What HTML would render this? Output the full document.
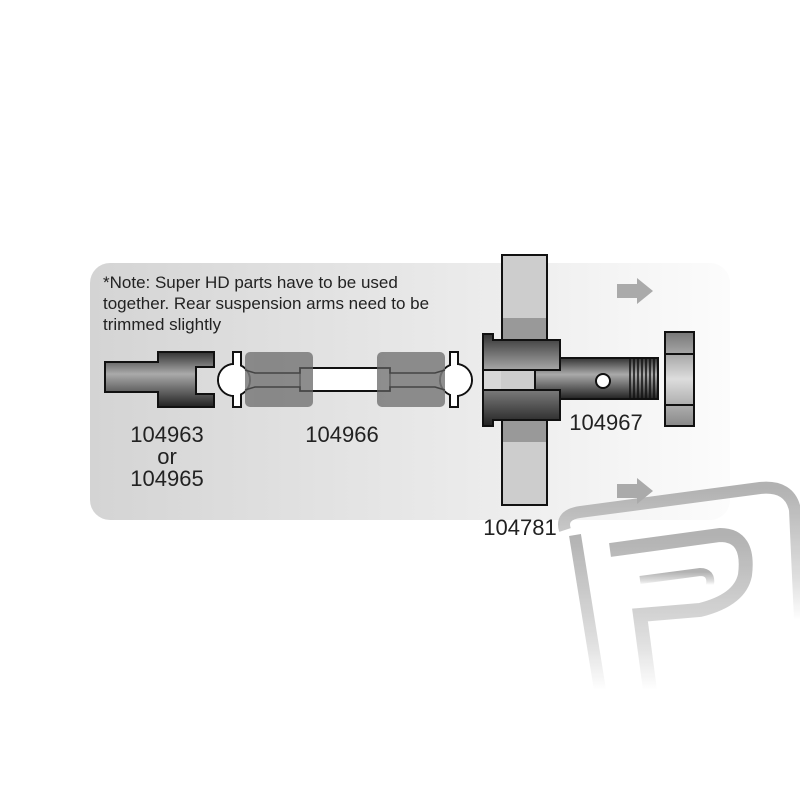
<!DOCTYPE html>
<html><head><meta charset="utf-8"><style>
html,body{margin:0;padding:0;background:#fff;}
svg{display:block;}
text{font-family:"Liberation Sans",sans-serif;fill:#222;}
</style></head><body>
<svg width="800" height="800" viewBox="0 0 800 800" xmlns="http://www.w3.org/2000/svg">
<defs>
<linearGradient id="panel" x1="0" y1="0" x2="1" y2="0">
<stop offset="0" stop-color="#d4d4d4"/><stop offset="0.6" stop-color="#ebebeb"/><stop offset="1" stop-color="#fcfcfc"/>
</linearGradient>
<linearGradient id="metal" x1="0" y1="0" x2="0" y2="1">
<stop offset="0" stop-color="#333"/><stop offset="0.4" stop-color="#aaa"/><stop offset="0.55" stop-color="#888"/><stop offset="1" stop-color="#222"/>
</linearGradient>
<linearGradient id="nut" x1="0" y1="0" x2="0" y2="1">
<stop offset="0" stop-color="#777"/><stop offset="0.5" stop-color="#ddd"/><stop offset="1" stop-color="#888"/>
</linearGradient>
<linearGradient id="wm" x1="0" y1="0" x2="0" y2="1">
<stop offset="0" stop-color="#aaa"/><stop offset="0.7" stop-color="#ddd"/><stop offset="1" stop-color="#fff"/>
</linearGradient>
</defs>
<rect x="90" y="263" width="640" height="257" rx="20" fill="url(#panel)"/>
<!-- watermark -->
<g fill="none" stroke="url(#wm)" opacity="0.9">
<path d="M565 530 Q560 515 580 512 L760 488 Q790 485 795 510 L800 620" stroke-width="12"/>
<path d="M575 535 L600 690" stroke-width="12"/>
<path d="M610 550 L720 535 Q750 535 745 575 Q740 600 700 610 L640 615 L650 690" stroke-width="14"/>
<path d="M640 580 L700 572 Q712 572 710 585" stroke-width="8"/>
</g>
<text x="103" y="288" font-size="17">*Note: Super HD parts have to be used</text>
<text x="103" y="309" font-size="17">together. Rear suspension arms need to be</text>
<text x="103" y="330" font-size="17">trimmed slightly</text>
<!-- 104963 -->
<path d="M105 362 H158 V352 H214 V367 H196 V394 H214 V407 H158 V392 H105 Z" fill="url(#metal)" stroke="#111" stroke-width="2"/>
<text x="167" y="442" font-size="22" text-anchor="middle">104963</text>
<text x="167" y="464" font-size="22" text-anchor="middle">or</text>
<text x="167" y="486" font-size="22" text-anchor="middle">104965</text>
<!-- dogbone -->
<rect x="300" y="368" width="90" height="23" fill="#fff" stroke="#111" stroke-width="2"/>
<g fill="#fff" stroke="#111" stroke-width="2">
<rect x="233" y="352" width="8" height="55"/>
<circle cx="234" cy="380" r="16"/>
<rect x="450" y="352" width="8" height="55"/>
<circle cx="456" cy="380" r="16"/>
</g>
<g fill="#fff">
<circle cx="234" cy="380" r="15"/><rect x="234" y="353" width="6" height="53"/>
<circle cx="456" cy="380" r="15"/><rect x="451" y="353" width="6" height="53"/>
</g>
<g fill="#7a7a7a" opacity="0.85">
<rect x="245" y="352" width="68" height="55" rx="5"/>
<rect x="377" y="352" width="68" height="55" rx="5"/>
</g>
<g fill="none" stroke="#444" stroke-width="1.5">
<path d="M245 370 L255 373 H300 V368 H313 M245 390 L255 387 H300 V391 H313"/>
<path d="M445 370 L435 373 H390 V368 H377 M445 390 L435 387 H390 V391 H377"/>
</g>
<text x="342" y="442" font-size="22" text-anchor="middle">104966</text>
<!-- bearing -->
<rect x="502" y="255" width="45" height="250" fill="#cdcdcd" stroke="#111" stroke-width="2"/>
<rect x="503" y="318" width="43" height="22" fill="#999"/>
<rect x="503" y="420" width="43" height="22" fill="#999"/>
<!-- axle -->
<rect x="535" y="358" width="123" height="41" fill="url(#metal)" stroke="#111" stroke-width="2"/>
<g stroke="#111" stroke-width="1.5">
<line x1="630" y1="358" x2="630" y2="399"/><line x1="634" y1="358" x2="634" y2="399"/><line x1="638" y1="358" x2="638" y2="399"/><line x1="642" y1="358" x2="642" y2="399"/><line x1="646" y1="358" x2="646" y2="399"/><line x1="650" y1="358" x2="650" y2="399"/><line x1="654" y1="358" x2="654" y2="399"/>
</g>
<path d="M483 334 H493 V340 H560 V370 H535 V390 H560 V420 H493 V426 H483 Z" fill="url(#metal)" stroke="#111" stroke-width="2"/>
<rect x="483" y="370" width="52" height="20" fill="#cdcdcd" stroke="#111" stroke-width="2"/>
<rect x="484" y="371" width="17" height="18" fill="#d8d8d8"/>
<circle cx="603" cy="381" r="7" fill="#fff" stroke="#111" stroke-width="2"/>
<!-- nut -->
<rect x="665" y="332" width="29" height="94" fill="url(#nut)" stroke="#111" stroke-width="2"/>
<line x1="665" y1="354" x2="694" y2="354" stroke="#111" stroke-width="2"/>
<line x1="665" y1="405" x2="694" y2="405" stroke="#111" stroke-width="2"/>
<text x="606" y="430" font-size="22" text-anchor="middle">104967</text>
<text x="520" y="535" font-size="22" text-anchor="middle">104781</text>
<!-- arrows -->
<g fill="#aaa">
<path d="M617 284 H637 V278 L653 291 L637 304 V298 H617 Z"/>
<path d="M617 484 H637 V478 L653 491 L637 504 V498 H617 Z"/>
</g>
</svg>
</body></html>
